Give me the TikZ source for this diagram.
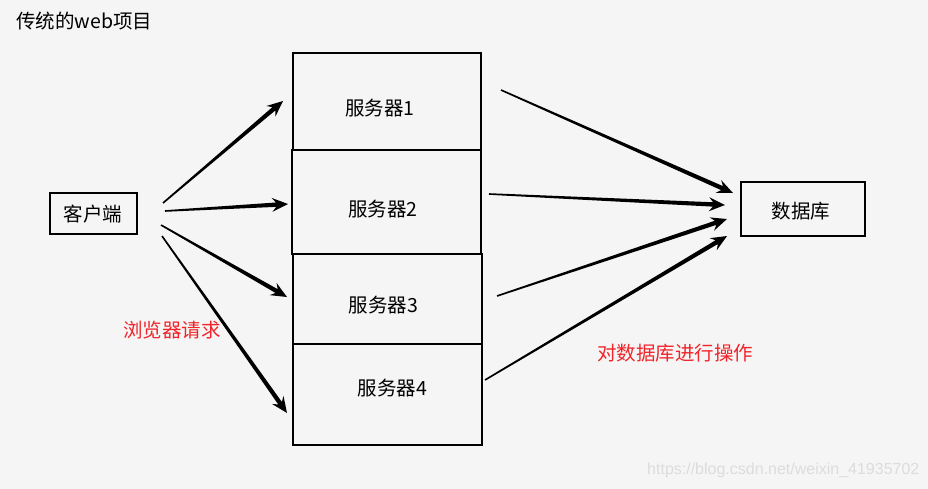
\documentclass[tikz,border=0pt]{standalone}
\usepackage{fontspec}
\setmainfont{Noto Sans CJK SC}
\newfontfamily\wmfont{Liberation Sans}
\usetikzlibrary{calc}
\definecolor{bg}{HTML}{F5F5F5}
\definecolor{redtxt}{HTML}{F0242A}
\definecolor{wm}{HTML}{DCDCDC}
\newcommand\taperarrow[2]{%
  \coordinate (tmpn) at ($(#2)!12pt!(#1)$);
  \coordinate (tmpw) at ($(#2)!16pt!(#1)$);
  \fill ($(#1)!0.8pt!90:(#2)$) -- ($(tmpn)!2.2pt!90:(#2)$) -- ($(tmpw)!7pt!90:(#2)$) -- (#2)
    -- ($(tmpw)!7pt!-90:(#2)$) -- ($(tmpn)!2.2pt!-90:(#2)$) -- ($(#1)!0.8pt!-90:(#2)$) -- cycle;}
\begin{document}
\begin{tikzpicture}[x=1pt,y=-1pt,
  lbl/.style={font=\fontsize{19.5}{23}\selectfont, inner sep=0pt},
  redlbl/.style={lbl, text=redtxt},
  box/.style={draw, line width=1.7pt, inner sep=0pt, outer sep=0pt, anchor=north west}]
\fill[bg] (0,0) rectangle (928,489);
\useasboundingbox (0,0) rectangle (928,489);

% title
\node[lbl, anchor=west] (title) at (16,21) {传统的web项目};

% boxes
\node[box, minimum width=87pt, minimum height=41pt] (client) at (50,193) {};
\node[lbl] (clientt) at (93,214) {客户端};
\node[box, minimum width=124pt, minimum height=54pt] (db) at (741,182) {};
\node[lbl] (dbt) at (801,211) {数据库};

\node[box, minimum width=188pt, minimum height=97pt] (s1) at (293,53) {};
\node[box, line width=2.2pt, minimum width=189pt, minimum height=104pt] (s2) at (292,150) {};
\node[box, minimum width=189pt, minimum height=90pt] (s3) at (293,254) {};
\node[box, line width=2pt, minimum width=189pt, minimum height=101pt] (s4) at (293,344) {};
\node[lbl] (s1t) at (380,108) {服务器1};
\node[lbl] (s2t) at (383,209) {服务器2};
\node[lbl] (s3t) at (383.5,305) {服务器3};
\node[lbl] (s4t) at (392.5,388) {服务器4};

% red labels
\node[redlbl] (req) at (172,330) {浏览器请求};
\node[redlbl, anchor=west] (op) at (597,353) {对数据库进行操作};

% watermark
\node[font=\wmfont\fontsize{16}{18}\selectfont, text=wm, anchor=west, inner sep=0pt] (wmk) at (647,470) {https://blog.csdn.net/weixin\_41935702};

% arrow coordinates
\coordinate (a1s) at (163,203); \coordinate (a1t) at (283,101);
\coordinate (a2s) at (165,211); \coordinate (a2t) at (288,204);
\coordinate (a3s) at (161,225); \coordinate (a3t) at (287,297);
\coordinate (a4s) at (162,236); \coordinate (a4t) at (287,413);
\coordinate (b1s) at (501,90);  \coordinate (b1t) at (733,193);
\coordinate (b2s) at (489,194); \coordinate (b2t) at (725,205);
\coordinate (b3s) at (497,296); \coordinate (b3t) at (727,219);
\coordinate (b4s) at (485,380); \coordinate (b4t) at (727,236);

\taperarrow{a1s}{a1t}
\taperarrow{a2s}{a2t}
\taperarrow{a3s}{a3t}
\taperarrow{a4s}{a4t}
\taperarrow{b1s}{b1t}
\taperarrow{b2s}{b2t}
\taperarrow{b3s}{b3t}
\taperarrow{b4s}{b4t}
\end{tikzpicture}
\end{document}
